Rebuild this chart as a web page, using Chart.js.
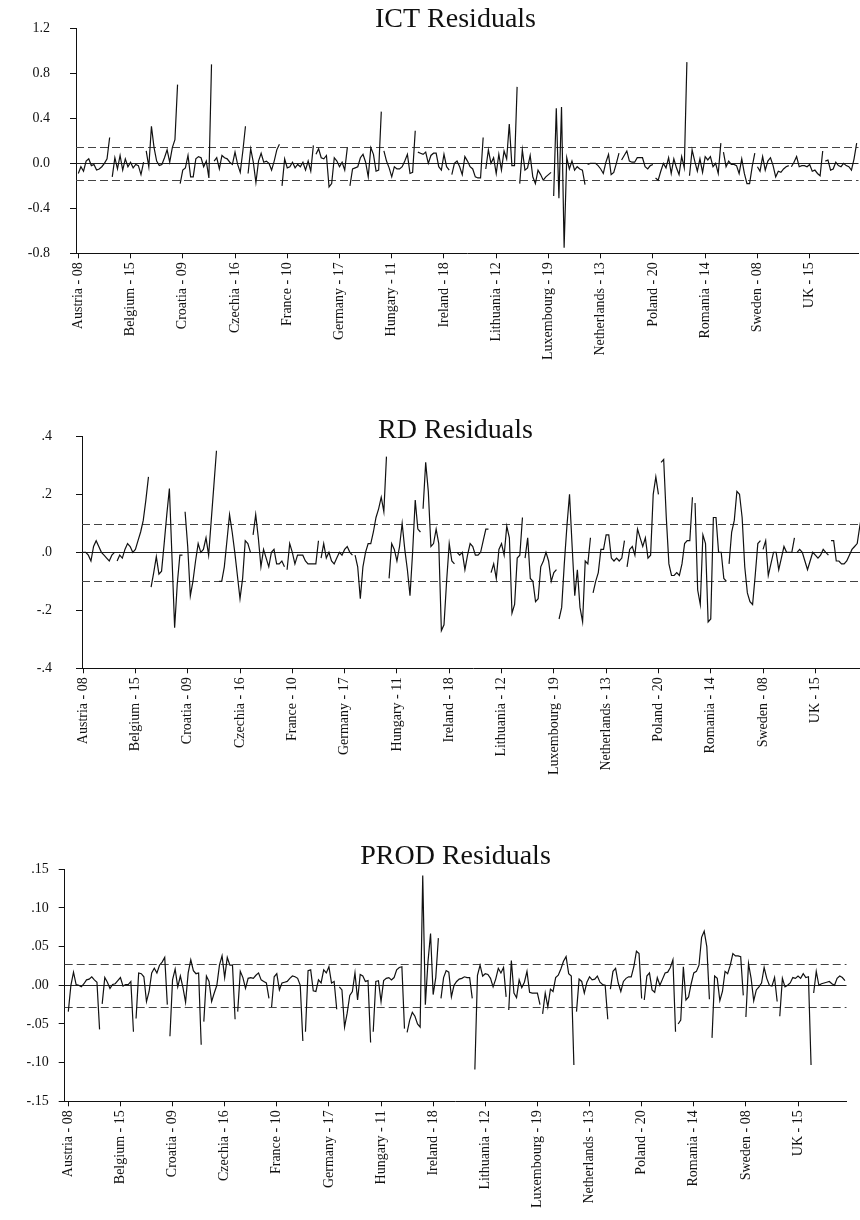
<!DOCTYPE html>
<html>
<head>
<meta charset="utf-8">
<script src="https://cdn.jsdelivr.net/npm/chart.js@4.4.1/dist/chart.umd.min.js"></script>
<style>
  html, body { margin: 0; padding: 0; background: #fff; width: 860px; height: 1220px; overflow: hidden; }
  .panel { position: absolute; left: 0; }
</style>
</head>
<body>
<div class="panel" style="top:0"><canvas id="ict" width="860" height="380"></canvas></div>
<div class="panel" style="top:400px"><canvas id="rd" width="870" height="400"></canvas></div>
<div class="panel" style="top:820px"><canvas id="prod" width="860" height="400"></canvas></div>
<script>
// panel: cross-sections x years, one row per country
const countries = ['Austria', 'Belgium', 'Bulgaria', 'Croatia', 'Czechia', 'Denmark', 'France', 'Germany',
  'Greece', 'Hungary', 'Ireland', 'Italy', 'Lithuania', 'Luxembourg', 'Malta', 'Netherlands', 'Poland',
  'Portugal', 'Romania', 'Slovakia', 'Sweden', 'UK', 'US'];
const years = ['08', '09', '10', '11', '12', '13', '14', '15', '16', '17', '18', '19', '20'];
const labelEvery = 20;

const ictResid = [
  [-0.09, -0.03, -0.07, 0.02, 0.04, -0.02, -0.01, -0.06, -0.05, -0.03, 0.00, 0.04, 0.23],
  [-0.12, 0.05, -0.05, 0.07, -0.06, 0.04, -0.03, 0.01, -0.04, -0.01, -0.02, -0.10, 0.01],
  [0.11, -0.03, 0.33, 0.14, 0.02, -0.02, -0.01, 0.05, 0.12, 0.01, 0.14, 0.21, 0.70],
  [-0.18, -0.06, -0.04, 0.07, -0.12, -0.12, 0.04, 0.06, 0.05, -0.03, 0.02, -0.13, 0.88],
  [0.02, 0.05, -0.05, 0.07, 0.05, 0.04, 0.01, -0.01, 0.10, -0.01, -0.08, 0.11, 0.33],
  [-0.09, 0.13, 0.01, -0.17, 0.02, 0.09, 0.01, 0.02, 0.00, -0.06, 0.02, 0.12, 0.17],
  [-0.20, 0.04, -0.04, -0.03, 0.01, -0.04, -0.01, -0.03, 0.01, -0.06, 0.02, -0.07, 0.16],
  [0.08, 0.13, 0.05, 0.04, 0.07, -0.21, -0.18, 0.05, 0.02, -0.03, 0.01, -0.06, 0.14],
  [-0.20, -0.05, -0.04, -0.03, 0.05, 0.08, 0.01, -0.12, 0.14, 0.08, -0.07, -0.06, 0.46],
  [0.11, 0.02, -0.04, -0.12, -0.03, -0.05, -0.05, -0.03, 0.02, 0.08, -0.09, -0.08, 0.29],
  [0.10, 0.09, 0.08, 0.10, 0.00, 0.07, 0.09, 0.09, -0.03, -0.06, 0.08, -0.03, -0.06],
  [-0.10, 0.00, 0.02, -0.03, -0.10, 0.06, 0.02, -0.03, -0.05, -0.12, -0.13, -0.13, 0.23],
  [-0.05, 0.12, 0.00, 0.05, -0.09, 0.08, -0.06, 0.11, 0.04, 0.35, -0.02, -0.02, 0.68],
  [-0.18, 0.12, -0.06, -0.04, 0.07, -0.12, -0.18, -0.06, -0.10, -0.15, -0.12, -0.10, -0.08],
  [-0.29, 0.49, -0.31, 0.50, -0.75, 0.05, -0.05, 0.02, -0.06, -0.03, -0.05, -0.06, -0.19],
  [-0.01, 0.00, 0.00, 0.00, -0.02, -0.05, -0.09, 0.01, 0.08, -0.10, -0.08, 0.00, 0.09],
  [0.03, 0.07, 0.11, 0.02, 0.01, 0.01, 0.05, 0.05, 0.05, -0.03, -0.05, -0.02, -0.01],
  [-0.13, -0.15, -0.07, 0.00, -0.04, 0.05, -0.09, 0.04, -0.04, -0.10, 0.06, -0.04, 0.90],
  [-0.11, 0.12, 0.02, -0.07, 0.04, -0.08, 0.06, 0.03, 0.06, -0.03, 0.00, -0.09, 0.18],
  [0.10, -0.03, 0.02, -0.01, -0.01, -0.02, -0.09, 0.04, -0.09, -0.18, -0.18, -0.03, 0.09],
  [-0.03, -0.07, 0.06, -0.06, 0.02, 0.05, -0.02, -0.12, -0.07, -0.08, -0.05, -0.03, -0.02],
  [-0.03, 0.01, 0.06, -0.03, -0.02, -0.02, -0.03, -0.01, -0.07, -0.06, -0.09, -0.11, 0.11],
  [0.02, 0.03, -0.06, -0.05, 0.01, -0.02, -0.03, 0.00, -0.02, -0.03, -0.06, 0.04, 0.18]
];

const rdResid = [
  [0.00, 0.00, -0.01, -0.03, 0.02, 0.04, 0.02, 0.00, -0.01, -0.02, -0.03, -0.01, 0.00],
  [-0.03, -0.01, -0.02, 0.01, 0.03, 0.02, 0.00, 0.01, 0.04, 0.07, 0.11, 0.18, 0.26],
  [-0.12, -0.07, -0.015, -0.075, -0.065, 0.03, 0.13, 0.22, -0.02, -0.26, -0.11, -0.01, -0.01],
  [0.14, 0.02, -0.15, -0.10, -0.03, 0.03, 0.00, 0.01, 0.05, -0.01, 0.11, 0.23, 0.35],
  [-0.10, -0.10, -0.05, 0.04, 0.13, 0.07, 0.00, -0.08, -0.16, -0.09, 0.04, 0.03, 0.00],
  [0.06, 0.13, 0.05, -0.05, 0.01, -0.02, -0.05, 0.00, 0.01, -0.04, -0.04, -0.03, -0.05],
  [-0.06, 0.03, 0.00, -0.04, -0.01, -0.01, -0.01, -0.03, -0.04, -0.04, -0.04, -0.04, 0.04],
  [-0.02, 0.03, -0.02, 0.00, -0.03, -0.04, -0.02, 0.00, -0.01, 0.01, 0.02, 0.00, -0.01],
  [-0.01, -0.05, -0.16, -0.05, 0.00, 0.03, 0.03, 0.07, 0.12, 0.15, 0.19, 0.14, 0.33],
  [-0.09, 0.03, 0.01, -0.03, 0.02, 0.10, 0.01, -0.06, -0.15, 0.00, 0.18, 0.08, 0.07],
  [0.15, 0.31, 0.21, 0.02, 0.03, 0.08, 0.03, -0.27, -0.25, -0.10, 0.03, -0.03, -0.04],
  [0.00, -0.01, 0.00, -0.06, -0.01, 0.03, 0.02, -0.01, -0.01, 0.00, 0.04, 0.08, 0.08],
  [-0.07, -0.04, -0.09, 0.01, 0.03, -0.01, 0.09, 0.05, -0.21, -0.18, -0.02, -0.01, 0.12],
  [-0.02, 0.05, -0.09, -0.10, -0.17, -0.16, -0.05, -0.03, 0.00, -0.03, -0.10, -0.07, -0.06],
  [-0.23, -0.19, -0.04, 0.09, 0.20, 0.02, -0.15, -0.06, -0.19, -0.24, -0.03, -0.04, 0.05],
  [-0.14, -0.10, -0.07, 0.01, 0.01, 0.06, 0.06, -0.02, -0.03, -0.02, -0.03, -0.02, 0.04],
  [-0.05, 0.01, 0.02, -0.01, 0.08, 0.05, 0.02, 0.05, -0.02, -0.01, 0.20, 0.26, 0.20],
  [0.31, 0.32, 0.12, -0.04, -0.08, -0.08, -0.07, -0.08, -0.04, 0.03, 0.04, 0.04, 0.19],
  [0.17, -0.13, -0.18, 0.06, 0.03, -0.24, -0.23, 0.12, 0.12, 0.00, 0.00, -0.09, -0.10],
  [-0.04, 0.07, 0.11, 0.21, 0.20, 0.12, -0.05, -0.14, -0.17, -0.18, -0.08, 0.03, 0.04],
  [0.01, 0.04, -0.08, -0.04, 0.00, 0.00, -0.06, -0.02, 0.02, 0.00, 0.00, 0.00, 0.05],
  [0.00, 0.01, 0.00, -0.03, -0.06, -0.03, 0.00, -0.01, -0.02, -0.01, 0.01, 0.00, -0.01],
  [0.04, 0.04, -0.03, -0.03, -0.04, -0.04, -0.03, -0.01, 0.01, 0.02, 0.03, 0.09, 0.14]
];

const prodResid = [
  [-0.034, 0.000, 0.017, 0.001, 0.000, -0.002, 0.002, 0.007, 0.008, 0.011, 0.007, 0.004, -0.057],
  [-0.024, 0.010, 0.004, -0.004, 0.001, 0.002, 0.006, 0.010, -0.001, 0.001, 0.001, 0.005, -0.060],
  [-0.043, 0.016, 0.015, 0.011, -0.021, -0.008, 0.016, 0.022, 0.016, 0.026, 0.030, 0.036, -0.025],
  [-0.066, 0.007, 0.021, -0.002, 0.012, -0.003, -0.022, 0.016, 0.033, 0.019, 0.015, 0.016, -0.077],
  [-0.047, 0.012, 0.005, -0.021, -0.010, 0.000, 0.026, 0.038, 0.010, 0.036, 0.026, 0.026, -0.044],
  [-0.034, 0.018, 0.010, -0.004, 0.009, 0.010, 0.009, 0.013, 0.016, 0.007, 0.005, 0.003, -0.017],
  [-0.028, 0.011, 0.015, -0.006, 0.003, 0.004, 0.005, 0.009, 0.012, 0.011, 0.009, 0.000, -0.072],
  [-0.060, 0.019, 0.020, -0.007, -0.008, 0.007, 0.003, 0.020, 0.016, 0.024, 0.003, 0.005, -0.031],
  [-0.002, -0.006, -0.054, -0.036, -0.013, -0.008, 0.016, -0.019, 0.014, 0.012, 0.005, 0.006, -0.074],
  [-0.060, 0.005, 0.006, -0.021, 0.006, 0.009, 0.010, 0.007, 0.010, 0.020, 0.023, 0.024, -0.056],
  [-0.061, -0.045, -0.035, -0.040, -0.050, -0.054, 0.142, -0.025, 0.030, 0.067, -0.012, 0.010, 0.061],
  [-0.017, 0.010, 0.019, 0.017, -0.015, 0.000, 0.005, 0.008, 0.009, 0.011, 0.010, 0.010, -0.017],
  [-0.109, 0.013, 0.026, 0.012, 0.015, 0.014, 0.009, -0.002, 0.008, 0.022, 0.016, 0.023, -0.015],
  [-0.032, 0.032, -0.010, -0.016, 0.007, -0.003, 0.004, 0.018, -0.009, -0.010, -0.010, -0.010, -0.025],
  [-0.037, -0.010, -0.028, -0.005, -0.008, 0.010, 0.013, 0.021, 0.031, 0.037, 0.015, 0.012, -0.103],
  [-0.034, 0.008, 0.005, -0.010, 0.004, 0.011, 0.007, 0.008, 0.012, 0.004, 0.001, 0.000, -0.044],
  [-0.005, 0.018, 0.022, 0.003, -0.008, 0.005, 0.009, 0.011, 0.011, 0.024, 0.044, 0.041, -0.017],
  [-0.019, 0.012, 0.016, -0.006, -0.009, 0.010, 0.000, 0.008, 0.016, 0.017, 0.023, 0.033, -0.060],
  [-0.050, -0.045, 0.024, -0.019, -0.015, 0.002, 0.016, 0.018, 0.026, 0.062, 0.070, 0.050, -0.018],
  [-0.068, 0.012, 0.009, -0.020, -0.008, 0.018, 0.015, 0.026, 0.041, 0.038, 0.038, 0.037, -0.013],
  [-0.041, 0.028, 0.009, -0.020, -0.006, -0.002, 0.003, 0.023, 0.009, 0.000, -0.001, 0.010, -0.021],
  [-0.040, 0.009, -0.002, 0.000, 0.003, 0.010, 0.009, 0.012, 0.009, 0.015, 0.010, 0.011, -0.103],
  [-0.010, 0.018, 0.000, 0.002, 0.003, 0.004, 0.005, 0.002, 0.000, 0.009, 0.012, 0.010, 0.006]
];

// residual +/- S.E. bands
const ictBand = 0.146, rdBand = 0.098, prodBand = 0.028;

const ictTicks = [-0.8, -0.4, 0, 0.4, 0.8, 1.2];
const ictTickLabels = ['-0.8', '-0.4', '0.0', '0.4', '0.8', '1.2'];
const rdTicks = [-0.4, -0.2, 0, 0.2, 0.4];
const rdTickLabels = ['-.4', '-.2', '.0', '.2', '.4'];
const prodTicks = [-0.15, -0.10, -0.05, 0, 0.05, 0.10, 0.15];
const prodTickLabels = ['-.15', '-.10', '-.05', '.00', '.05', '.10', '.15'];

const xLabels = [];
countries.forEach(c => years.forEach(y => xLabels.push(c + ' - ' + y)));
const xTickIdx = xLabels.map((_, i) => i).filter(i => i % labelEvery === 0);

const serif = '"Liberation Serif", "Times New Roman", serif';

// zero line, dashed bands and the title
const residLines = {
  id: 'residLines',
  beforeDatasetsDraw(chart, args, opts) {
    const { ctx, chartArea: a, scales: { y } } = chart;
    ctx.save();
    ctx.lineWidth = 1;
    ctx.strokeStyle = '#222';
    const y0 = Math.round(y.getPixelForValue(0)) + 0.5;
    ctx.beginPath(); ctx.moveTo(a.left, y0); ctx.lineTo(a.right, y0); ctx.stroke();
    ctx.setLineDash([8, 4]);
    ctx.strokeStyle = '#444';
    [opts.band, -opts.band].forEach(v => {
      const yy = Math.round(y.getPixelForValue(v)) + 0.5;
      ctx.beginPath(); ctx.moveTo(a.left, yy); ctx.lineTo(a.right, yy); ctx.stroke();
    });
    ctx.restore();
  },
  afterDraw(chart, args, opts) {
    const ctx = chart.ctx;
    ctx.save();
    ctx.font = '28px ' + serif;
    ctx.fillStyle = '#111';
    ctx.textAlign = 'center';
    ctx.textBaseline = 'alphabetic';
    ctx.fillText(opts.title, 455.5, opts.titleY);
    ctx.restore();
  }
};

function makePanel(id, p) {
  const pts = p.values.flat().map((v, i) => ({ x: i, y: v }));
  return new Chart(document.getElementById(id), {
    type: 'line',
    data: {
      datasets: [{
        data: pts,
        borderColor: '#111',
        borderWidth: 1.2,
        pointRadius: 0,
        tension: 0,
        // break the line between cross-sections
        segment: { borderColor: c => c.p1DataIndex % years.length === 0 ? 'rgba(0,0,0,0)' : undefined }
      }]
    },
    options: {
      responsive: false,
      animation: false,
      layout: { padding: { left: 0, top: p.top, right: p.right, bottom: 0 } },
      plugins: {
        legend: { display: false },
        tooltip: { enabled: false },
        residLines: { band: p.band, title: p.title, titleY: p.titleY }
      },
      scales: {
        x: {
          type: 'linear',
          min: p.xMin,
          max: p.xMax,
          afterBuildTicks: ax => { ax.ticks = xTickIdx.map(v => ({ value: v })); },
          afterFit: ax => { ax.height = p.xAxisH; },
          ticks: {
            autoSkip: false, minRotation: 90, maxRotation: 90, padding: 4,
            color: '#111', font: { family: serif, size: 14 },
            callback: v => xLabels[v]
          },
          grid: { drawOnChartArea: false, drawTicks: true, tickLength: 5, color: '#111' },
          border: { display: true, color: '#111', width: 1 }
        },
        y: {
          type: 'linear',
          min: p.yTicks[0],
          max: p.yTicks[p.yTicks.length - 1],
          afterBuildTicks: ax => { ax.ticks = p.yTicks.map(v => ({ value: v })); },
          afterFit: ax => { ax.width = p.yAxisW; },
          ticks: {
            padding: p.yPad, color: '#111', font: { family: serif, size: 14 },
            callback: v => p.yLabels[p.yTicks.indexOf(v)]
          },
          grid: { drawOnChartArea: false, drawTicks: true, tickLength: 6, color: '#111' },
          border: { display: true, color: '#111', width: 1 }
        }
      }
    },
    plugins: [residLines]
  });
}

makePanel('ict', {
  values: ictResid, band: ictBand, title: 'ICT Residuals', titleY: 27,
  yTicks: ictTicks, yLabels: ictTickLabels,
  top: 20, right: 1.5, yAxisW: 76, xAxisH: 126.7, yPad: 20,
  xMin: -0.88, xMax: 298.7
});
makePanel('rd', {
  values: rdResid, band: rdBand, title: 'RD Residuals', titleY: 38.3,
  yTicks: rdTicks, yLabels: rdTickLabels,
  top: 36.3, right: 6, yAxisW: 82, xAxisH: 131.7, yPad: 24,
  xMin: -0.42, xMax: 298.6
});
makePanel('prod', {
  values: prodResid, band: prodBand, title: 'PROD Residuals', titleY: 44,
  yTicks: prodTicks, yLabels: prodTickLabels,
  top: 49.3, right: 13.5, yAxisW: 64.7, xAxisH: 118.7, yPad: 10,
  xMin: -1.38, xMax: 298.6
});
</script>
</body>
</html>
